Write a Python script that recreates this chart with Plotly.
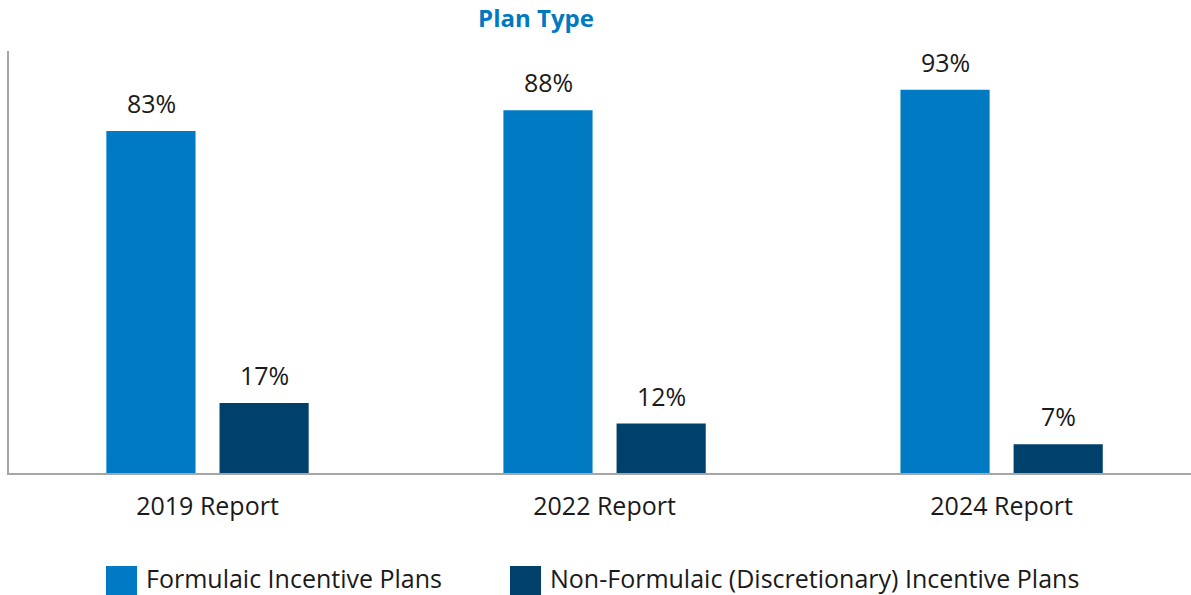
import plotly.graph_objects as go

categories = ["2019 Report", "2022 Report", "2024 Report"]
formulaic = [83, 88, 93]
non_formulaic = [17, 12, 7]
series_names = ["Formulaic Incentive Plans", "Non-Formulaic (Discretionary) Incentive Plans"]
colors = ["#007AC2", "#00416B"]
title_text = "Plan Type"

FONT = "Open Sans"
W, H = 1191, 595
ML, MR, MT, MB = 9, 0, 51, 122

fig = go.Figure()
for name, vals, col in zip(series_names, [formulaic, non_formulaic], colors):
    fig.add_trace(go.Bar(x=categories, y=vals, name=name, marker_color=col,
                         marker_line_width=0, showlegend=False))

# value labels
offsets = [-56.5, 56.5]
for vals, dx in zip([formulaic, non_formulaic], offsets):
    for c, v in zip(categories, vals):
        fig.add_annotation(x=c, y=v, text=f"{v}%", showarrow=False, xshift=dx,
                           yanchor="bottom", yshift=9,
                           font=dict(family=FONT, size=25, color="#1a1a1a"))

# custom legend (large square swatches)
leg_items = [(106, 145), (510, 549)]
for (sx, tx), name, col in zip(leg_items, series_names, colors):
    fig.add_shape(type="rect", xref="paper", yref="paper",
                  x0=(sx - ML) / (W - ML - MR), x1=(sx + 31 - ML) / (W - ML - MR),
                  y0=-(566 - (H - MB)) / (H - MT - MB), y1=-(595 - (H - MB)) / (H - MT - MB),
                  fillcolor=col, line_width=0)
    fig.add_annotation(xref="paper", yref="paper",
                       x=(tx - ML) / (W - ML - MR), y=-(578 - (H - MB)) / (H - MT - MB),
                       text=name, showarrow=False, xanchor="left", yanchor="middle",
                       borderpad=0,
                       font=dict(family=FONT, size=25, color="#1a1a1a"))

fig.update_layout(
    width=W, height=H,
    margin=dict(l=ML, r=MR, t=MT, b=MB),
    plot_bgcolor="white", paper_bgcolor="white",
    barmode="group", bargap=0.43, bargroupgap=0.212,
    title=dict(text=f"<b>{title_text}</b>", x=536 / W, xanchor="center", xref="container",
               y=1 - 19 / H, yanchor="middle", yref="container",
               font=dict(family=FONT, size=24, color="#0079C1")),
    xaxis=dict(range=[-0.5, 2.477], showline=True, linecolor="#A6A6A6", linewidth=2,
               showgrid=False, ticks="", ticklabelstandoff=10,
               tickfont=dict(family=FONT, size=25, color="#1a1a1a")),
    yaxis=dict(range=[0, 102.4], showline=True, linecolor="#A6A6A6", linewidth=2,
               showgrid=False, zeroline=False, showticklabels=False, ticks=""),
)

fig.write_html("out.html")
